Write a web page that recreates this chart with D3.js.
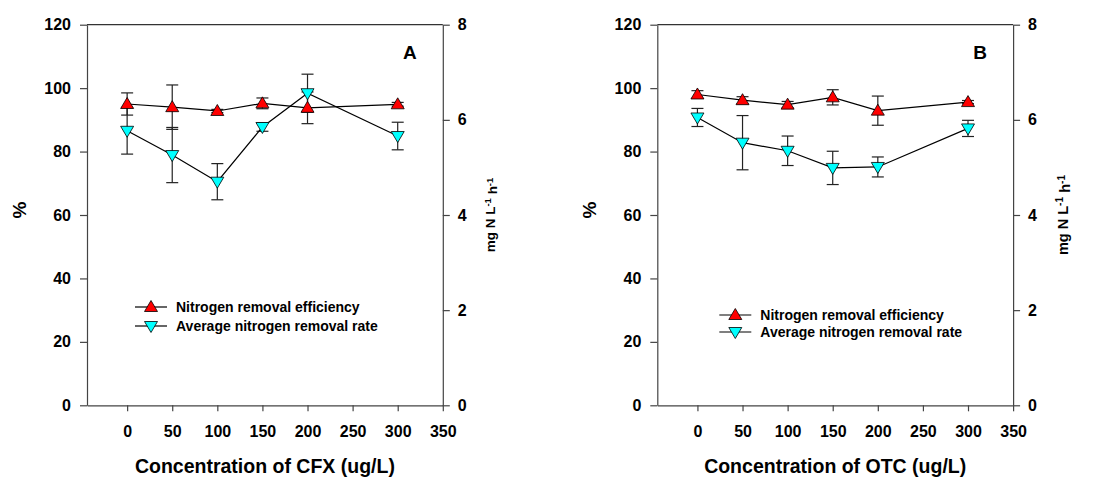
<!DOCTYPE html>
<html>
<head>
<meta charset="utf-8">
<script src="https://cdn.jsdelivr.net/npm/d3@7"></script>
<style>
  body { margin: 0; background: #fff; }
  svg text { font-family: "Liberation Sans", Arial, sans-serif; font-weight: bold; fill: #000; }
  .axis path, .axis line { stroke: #444; stroke-width: 1.2; }
  .axis text { font-size: 16px; font-family: "Liberation Sans", Arial, sans-serif; font-weight: bold; }
</style>
</head>
<body>
<div id="vis"></div>
<script>
// concentrations (ug/L)
const conc = [0, 50, 100, 150, 200, 300];

// panel A - CFX
const effA = [95.0, 94.0, 92.8, 95.2, 93.8, 94.9];      // %
const effErrA = [3.5, 7.0, 0.5, 1.7, 5.0, 0.6];
const rateA = [5.77, 5.26, 4.70, 5.85, 6.56, 5.66];     // mg N L-1 h-1
const rateErrA = [0.49, 0.58, 0.38, 0.09, 0.40, 0.29];

// panel B - OTC
const effB = [98.0, 96.2, 94.8, 97.1, 92.9, 95.6];
const effErrB = [1.2, 1.1, 1.0, 2.4, 4.6, 0.5];
const rateB = [6.05, 5.52, 5.35, 4.99, 5.01, 5.82];
const rateErrB = [0.19, 0.57, 0.31, 0.35, 0.21, 0.17];

const xTicks = [0, 50, 100, 150, 200, 250, 300, 350];
const yTicks = [0, 20, 40, 60, 80, 100, 120];
const y2Ticks = [0, 2, 4, 6, 8];
const legendNames = ['Nitrogen removal efficiency', 'Average nitrogen removal rate'];

const W = 1110, H = 478;
const plotTop = 24.7, plotBottom = 405.3, plotW = 355.8;

const panels = [
  {left: 87, eff: effA, effErr: effErrA, rate: rateA, rateErr: rateErrA, letter: 'A',
   xTitle: 'Concentration of CFX (ug/L)', legX: 48, legY: 307, legDy: 19, pctX: 20, unitX: 490, unitSize: 13.5},
  {left: 657.3, eff: effB, effErr: effErrB, rate: rateB, rateErr: rateErrB, letter: 'B',
   xTitle: 'Concentration of OTC (ug/L)', legX: 62, legY: 315, legDy: 17, pctX: 590, unitX: 1063, unitSize: 14.5}
];

const svg = d3.select('#vis').append('svg')
  .attr('width', W).attr('height', H);

const upTri = 'M0,-6.5L6.5,4.5L-6.5,4.5Z';
const downTri = 'M0,6.5L6.5,-4.5L-6.5,-4.5Z';

panels.forEach(p => drawPanel(p));

function drawPanel(p) {
  const x = d3.scaleLinear().domain([-44.5, 350]).range([p.left, p.left + plotW]);
  const y = d3.scaleLinear().domain([0, 120]).range([plotBottom, plotTop]);
  const y2 = d3.scaleLinear().domain([0, 8]).range([plotBottom, plotTop]);
  const right = p.left + plotW;

  const g = svg.append('g');

  // frame top line
  g.append('line')
    .attr('x1', p.left).attr('x2', right)
    .attr('y1', plotTop).attr('y2', plotTop)
    .attr('stroke', '#333').attr('stroke-width', 1.2);

  g.append('g').attr('class', 'axis')
    .attr('transform', `translate(${p.left},0)`)
    .call(d3.axisLeft(y).tickValues(yTicks).tickSize(7).tickSizeOuter(0).tickPadding(9));

  g.append('g').attr('class', 'axis')
    .attr('transform', `translate(${right},0)`)
    .call(d3.axisRight(y2).tickValues(y2Ticks).tickSize(7).tickSizeOuter(0).tickPadding(8));

  g.append('g').attr('class', 'axis')
    .attr('transform', `translate(0,${plotBottom})`)
    .call(d3.axisBottom(x).tickValues(xTicks).tickSize(6).tickSizeOuter(0).tickPadding(14));

  // series
  const effPts = conc.map((c, i) => ({c, v: y(p.eff[i]), lo: y(p.eff[i] - p.effErr[i]), hi: y(p.eff[i] + p.effErr[i])}));
  const ratePts = conc.map((c, i) => ({c, v: y2(p.rate[i]), lo: y2(p.rate[i] - p.rateErr[i]), hi: y2(p.rate[i] + p.rateErr[i])}));

  const line = d3.line().x(d => x(d.c)).y(d => d.v);

  [effPts, ratePts].forEach(pts => {
    const eb = g.append('g').attr('stroke', '#222').attr('stroke-width', 1.2);
    pts.forEach(d => {
      eb.append('line').attr('x1', x(d.c)).attr('x2', x(d.c)).attr('y1', d.lo).attr('y2', d.hi);
      eb.append('line').attr('x1', x(d.c) - 6).attr('x2', x(d.c) + 6).attr('y1', d.lo).attr('y2', d.lo);
      eb.append('line').attr('x1', x(d.c) - 6).attr('x2', x(d.c) + 6).attr('y1', d.hi).attr('y2', d.hi);
    });
    g.append('path').datum(pts).attr('d', line)
      .attr('fill', 'none').attr('stroke', '#000').attr('stroke-width', 1.2);
  });

  g.selectAll('.effMark').data(effPts).join('path')
    .attr('d', upTri).attr('transform', d => `translate(${x(d.c)},${d.v})`)
    .attr('fill', '#ff0000').attr('stroke', '#000').attr('stroke-width', 0.8);
  g.selectAll('.rateMark').data(ratePts).join('path')
    .attr('d', downTri).attr('transform', d => `translate(${x(d.c)},${d.v})`)
    .attr('fill', '#00ffff').attr('stroke', '#000').attr('stroke-width', 0.8);

  // legend
  const lx = p.left + p.legX;
  legendNames.forEach((name, i) => {
    const ly = p.legY + i * p.legDy;
    g.append('line').attr('x1', lx).attr('x2', lx + 32).attr('y1', ly).attr('y2', ly)
      .attr('stroke', '#000').attr('stroke-width', 1.2);
    g.append('path').attr('d', i === 0 ? upTri : downTri)
      .attr('transform', `translate(${lx + 16},${ly})`)
      .attr('fill', i === 0 ? '#ff0000' : '#00ffff').attr('stroke', '#000').attr('stroke-width', 0.8);
    g.append('text').attr('x', lx + 41).attr('y', ly + 5)
      .style('font-size', '14px').text(name);
  });

  // panel letter
  g.append('text').attr('x', right - 33).attr('y', 59)
    .attr('text-anchor', 'middle').style('font-size', '19px').text(p.letter);

  // axis titles
  g.append('text').attr('x', (p.left + right) / 2).attr('y', 473)
    .attr('text-anchor', 'middle').style('font-size', '19.5px').text(p.xTitle);

  g.append('text').attr('transform', `translate(${p.pctX + 6},210) rotate(-90)`)
    .attr('text-anchor', 'middle').style('font-size', '19px').text('%');

  const unit = g.append('text')
    .attr('transform', `translate(${p.unitX + 5},215) rotate(-90)`)
    .attr('text-anchor', 'middle').style('font-size', p.unitSize + 'px');
  unit.append('tspan').text('mg N L');
  unit.append('tspan').attr('dy', '-0.45em').style('font-size', '0.7em').text('-1');
  unit.append('tspan').attr('dy', '0.45em').text(' h');
  unit.append('tspan').attr('dy', '-0.45em').style('font-size', '0.7em').text('-1');
}
</script>
</body>
</html>
